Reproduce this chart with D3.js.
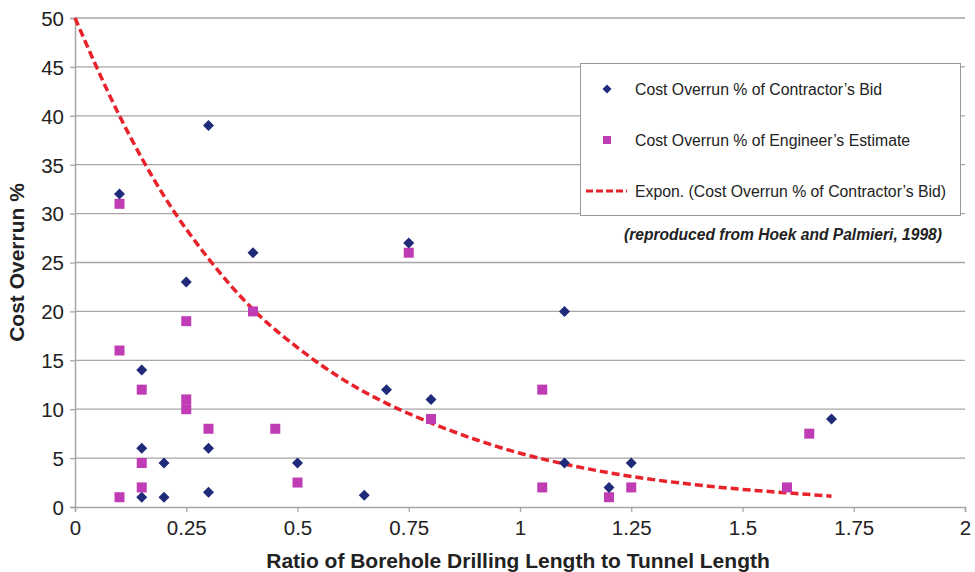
<!DOCTYPE html>
<html>
<head>
<meta charset="utf-8">
<script src="https://cdn.jsdelivr.net/npm/d3@7"></script>
<style>
  html, body { margin: 0; padding: 0; background: #fff; }
  svg { display: block; font-family: "Liberation Sans", Arial, Helvetica, sans-serif; }
</style>
</head>
<body>
<svg id="chart" width="975" height="572"></svg>
<script>
// Cost overrun % of contractor's bid (diamonds)
const bidX = [0.1, 0.15, 0.15, 0.15, 0.2, 0.2, 0.25, 0.3, 0.3, 0.3, 0.4, 0.5, 0.65, 0.7, 0.75, 0.8, 1.1, 1.1, 1.2, 1.25, 1.7];
const bidY = [32, 14, 6, 1, 4.5, 1, 23, 39, 6, 1.5, 26, 4.5, 1.2, 12, 27, 11, 20, 4.5, 2, 4.5, 9];

// Cost overrun % of engineer's estimate (squares)
const estX = [0.1, 0.1, 0.1, 0.15, 0.15, 0.15, 0.25, 0.25, 0.25, 0.3, 0.4, 0.45, 0.5, 0.75, 0.8, 1.05, 1.05, 1.2, 1.25, 1.6, 1.65];
const estY = [31, 16, 1, 12, 4.5, 2, 19, 11, 10, 8, 20, 8, 2.5, 26, 9, 12, 2, 1, 2, 2, 7.5];

// Exponential trend line
const trendX = [0, 0.1, 0.2, 0.3, 0.4, 0.5, 0.6, 0.7, 0.8, 0.9, 1.0, 1.1, 1.2, 1.3, 1.4, 1.5, 1.6, 1.7];
const trendY = [50, 40, 31.8, 25.4, 20.2, 16.3, 13.1, 10.6, 8.6, 6.9, 5.5, 4.4, 3.5, 2.8, 2.25, 1.8, 1.45, 1.1];

const xTicks = [0, 0.25, 0.5, 0.75, 1, 1.25, 1.5, 1.75, 2];
const yTicks = [0, 5, 10, 15, 20, 25, 30, 35, 40, 45, 50];

const legendLabels = [
  "Cost Overrun % of Contractor\u2019s Bid",
  "Cost Overrun % of Engineer\u2019s Estimate",
  "Expon. (Cost Overrun % of Contractor\u2019s Bid)"
];

const BID_COLOR = "#1f2a78";
const EST_COLOR = "#c03cb4";
const TREND_COLOR = "#e8212b";
const GRID = "#a6a6a6";

const svg = d3.select("#chart");
const margin = { left: 75, right: 10, top: 18, bottom: 65 };

const x = d3.scaleLinear().domain([0, 2]).range([margin.left, 965]);
const y = d3.scaleLinear().domain([0, 50]).range([507, margin.top]);

// gridlines
svg.append("g")
  .selectAll("line")
  .data(yTicks.filter(d => d > 0))
  .join("line")
  .attr("x1", x(0)).attr("x2", x(2))
  .attr("y1", d => y(d)).attr("y2", d => y(d))
  .attr("stroke", GRID).attr("stroke-width", 1.3);

// axes
const xAxis = svg.append("g")
  .attr("transform", `translate(0,${y(0)})`)
  .call(d3.axisBottom(x).tickValues(xTicks).tickFormat(d3.format("")).tickSize(5).tickPadding(8));
const yAxis = svg.append("g")
  .attr("transform", `translate(${x(0)},0)`)
  .call(d3.axisLeft(y).tickValues(yTicks).tickSize(5).tickPadding(6));

[xAxis, yAxis].forEach(g => {
  g.select(".domain").attr("stroke", GRID).attr("stroke-width", 1.5);
  g.selectAll(".tick line").attr("stroke", GRID).attr("stroke-width", 1.3);
  g.selectAll(".tick text")
    .attr("fill", "#222")
    .style("font-size", "20.5px")
    .style("font-family", "\"Liberation Sans\", Arial, sans-serif");
});
yAxis.selectAll(".tick text").attr("dy", "0.36em");

// axis titles
svg.append("text")
  .attr("x", 518).attr("y", 568)
  .attr("text-anchor", "middle")
  .attr("font-size", 21).attr("font-weight", "bold").attr("fill", "#222")
  .text("Ratio of Borehole Drilling Length to Tunnel Length");

svg.append("text")
  .attr("transform", `translate(24,${(y(50) + y(0)) / 2}) rotate(-90)`)
  .attr("text-anchor", "middle")
  .attr("font-size", 21).attr("font-weight", "bold").attr("fill", "#222")
  .text("Cost Overrun %");

// trend line
const trend = trendX.map((v, i) => ({ x: v, y: trendY[i] }));
svg.append("path")
  .datum(trend)
  .attr("fill", "none")
  .attr("stroke", TREND_COLOR)
  .attr("stroke-width", 3.5)
  .attr("stroke-dasharray", "8,4")
  .attr("d", d3.line().x(d => x(d.x)).y(d => y(d.y)).curve(d3.curveMonotoneX));

// markers
const diamond = s => `M0,${-s}L${s},0L0,${s}L${-s},0Z`;

svg.append("g")
  .selectAll("rect")
  .data(estX.map((v, i) => ({ x: v, y: estY[i] })))
  .join("rect")
  .attr("x", d => x(d.x) - 5).attr("y", d => y(d.y) - 5)
  .attr("width", 10).attr("height", 10)
  .attr("fill", EST_COLOR);

svg.append("g")
  .selectAll("path")
  .data(bidX.map((v, i) => ({ x: v, y: bidY[i] })))
  .join("path")
  .attr("transform", d => `translate(${x(d.x)},${y(d.y)})`)
  .attr("d", diamond(5.5))
  .attr("fill", BID_COLOR);

// legend
const lg = svg.append("g");
lg.append("rect")
  .attr("x", 580.5).attr("y", 63.5)
  .attr("width", 380).attr("height", 152)
  .attr("fill", "#fff").attr("stroke", "#999").attr("stroke-width", 1);

const rowY = [89, 140, 191];
lg.append("path")
  .attr("transform", `translate(607,${rowY[0]})`)
  .attr("d", diamond(4.5)).attr("fill", BID_COLOR);
lg.append("rect")
  .attr("x", 603).attr("y", rowY[1] - 4).attr("width", 8).attr("height", 8)
  .attr("fill", EST_COLOR);
lg.append("line")
  .attr("x1", 586).attr("x2", 627).attr("y1", rowY[2]).attr("y2", rowY[2])
  .attr("stroke", TREND_COLOR).attr("stroke-width", 3).attr("stroke-dasharray", "7,3");

lg.selectAll("text")
  .data(legendLabels)
  .join("text")
  .attr("x", 635).attr("y", (d, i) => rowY[i])
  .attr("dy", "0.36em")
  .attr("font-size", 15.8).attr("fill", "#222")
  .text(d => d);

svg.append("text")
  .attr("x", 942).attr("y", 234).attr("dy", "0.36em")
  .attr("text-anchor", "end")
  .attr("font-size", 15.6).attr("font-weight", "bold").attr("font-style", "italic")
  .attr("fill", "#222")
  .text("(reproduced from Hoek and Palmieri, 1998)");
</script>
</body>
</html>
